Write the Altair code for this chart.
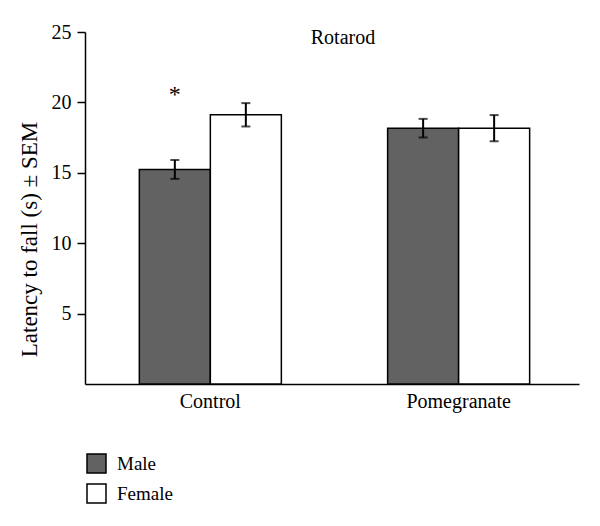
import altair as alt
import pandas as pd

groups = ["Control", "Control", "Pomegranate", "Pomegranate"]
sexes = ["Male", "Female", "Male", "Female"]
means = [15.24, 19.12, 18.17, 18.17]
sems = [0.67, 0.83, 0.66, 0.93]
star_group = ["Control"]
star_sex = ["Male"]
star_y = [20.5]

df = pd.DataFrame({"group": groups, "sex": sexes, "mean": means, "sem": sems})
df["lo"] = df["mean"] - df["sem"]
df["hi"] = df["mean"] + df["sem"]
star_df = pd.DataFrame({"group": star_group, "sex": star_sex, "y": star_y, "label": ["*"]})

FONT = "Liberation Serif"
sex_order = ["Male", "Female"]

x = alt.X("group:N", title=None, sort=["Control", "Pomegranate"],
          scale=alt.Scale(paddingInner=0.428, paddingOuter=0.2088, align=0.524),
          axis=alt.Axis(labelAngle=0, ticks=False, labelPadding=7, labelFontSize=20,
                        labelFont=FONT, labelColor="black", domainColor="black", domainWidth=1.5))
xo = alt.XOffset("sex:N", sort=sex_order, scale=alt.Scale(domain=sex_order, paddingInner=0, paddingOuter=0))
yscale = alt.Scale(domain=[0, 25], nice=False)

bars = alt.Chart(df).mark_bar(stroke="black", strokeWidth=1.5).encode(
    x=x, xOffset=xo,
    y=alt.Y("mean:Q", scale=yscale, title="Latency to fall (s) ± SEM",
            axis=alt.Axis(values=[5, 10, 15, 20, 25], grid=False, tickSize=8, tickColor="black",
                          tickWidth=1.5, domainColor="black", domainWidth=1.5, labelPadding=6,
                          labelFontSize=20, labelFont=FONT, labelColor="black",
                          titleFont=FONT, titleFontSize=23, titleFontWeight="normal",
                          titleColor="black", titleX=-56, titleY=207, titleAlign="center",
                          titleBaseline="middle")),
    fill=alt.Fill("sex:N", sort=sex_order,
                  scale=alt.Scale(domain=sex_order, range=["#626262", "#ffffff"]),
                  legend=alt.Legend(title=None, orient="none", legendX=1, legendY=421,
                                    symbolType="square", symbolSize=361, symbolStrokeColor="black",
                                    symbolStrokeWidth=1.5, labelFont=FONT, labelFontSize=19,
                                    labelColor="black", rowPadding=5, labelOffset=10, padding=0)),
)

rules = alt.Chart(df).mark_rule(color="black", strokeWidth=2).encode(
    x=x, xOffset=xo, y=alt.Y("lo:Q", scale=yscale), y2="hi:Q")
cap_lo = alt.Chart(df).mark_tick(color="black", thickness=2, size=9).encode(
    x=x, xOffset=xo, y=alt.Y("lo:Q", scale=yscale))
cap_hi = alt.Chart(df).mark_tick(color="black", thickness=2, size=9).encode(
    x=x, xOffset=xo, y=alt.Y("hi:Q", scale=yscale))
star = alt.Chart(star_df).mark_text(font=FONT, fontSize=24, color="black", baseline="middle").encode(
    x=x, xOffset=xo, y=alt.Y("y:Q", scale=yscale), text="label:N")

chart = alt.layer(bars, rules, cap_lo, cap_hi, star).properties(
    width=494, height=352,
    title=alt.TitleParams("Rotarod", font=FONT, fontSize=20, fontWeight="normal", color="black",
                          anchor="middle", dx=11, dy=30),
    autosize=alt.AutoSizeParams(type="none"),
    padding={"left": 77, "top": 24, "right": 13, "bottom": 134},
).configure_view(stroke=None)

chart.save("out.html", embed_options={"renderer": "svg", "actions": False})
